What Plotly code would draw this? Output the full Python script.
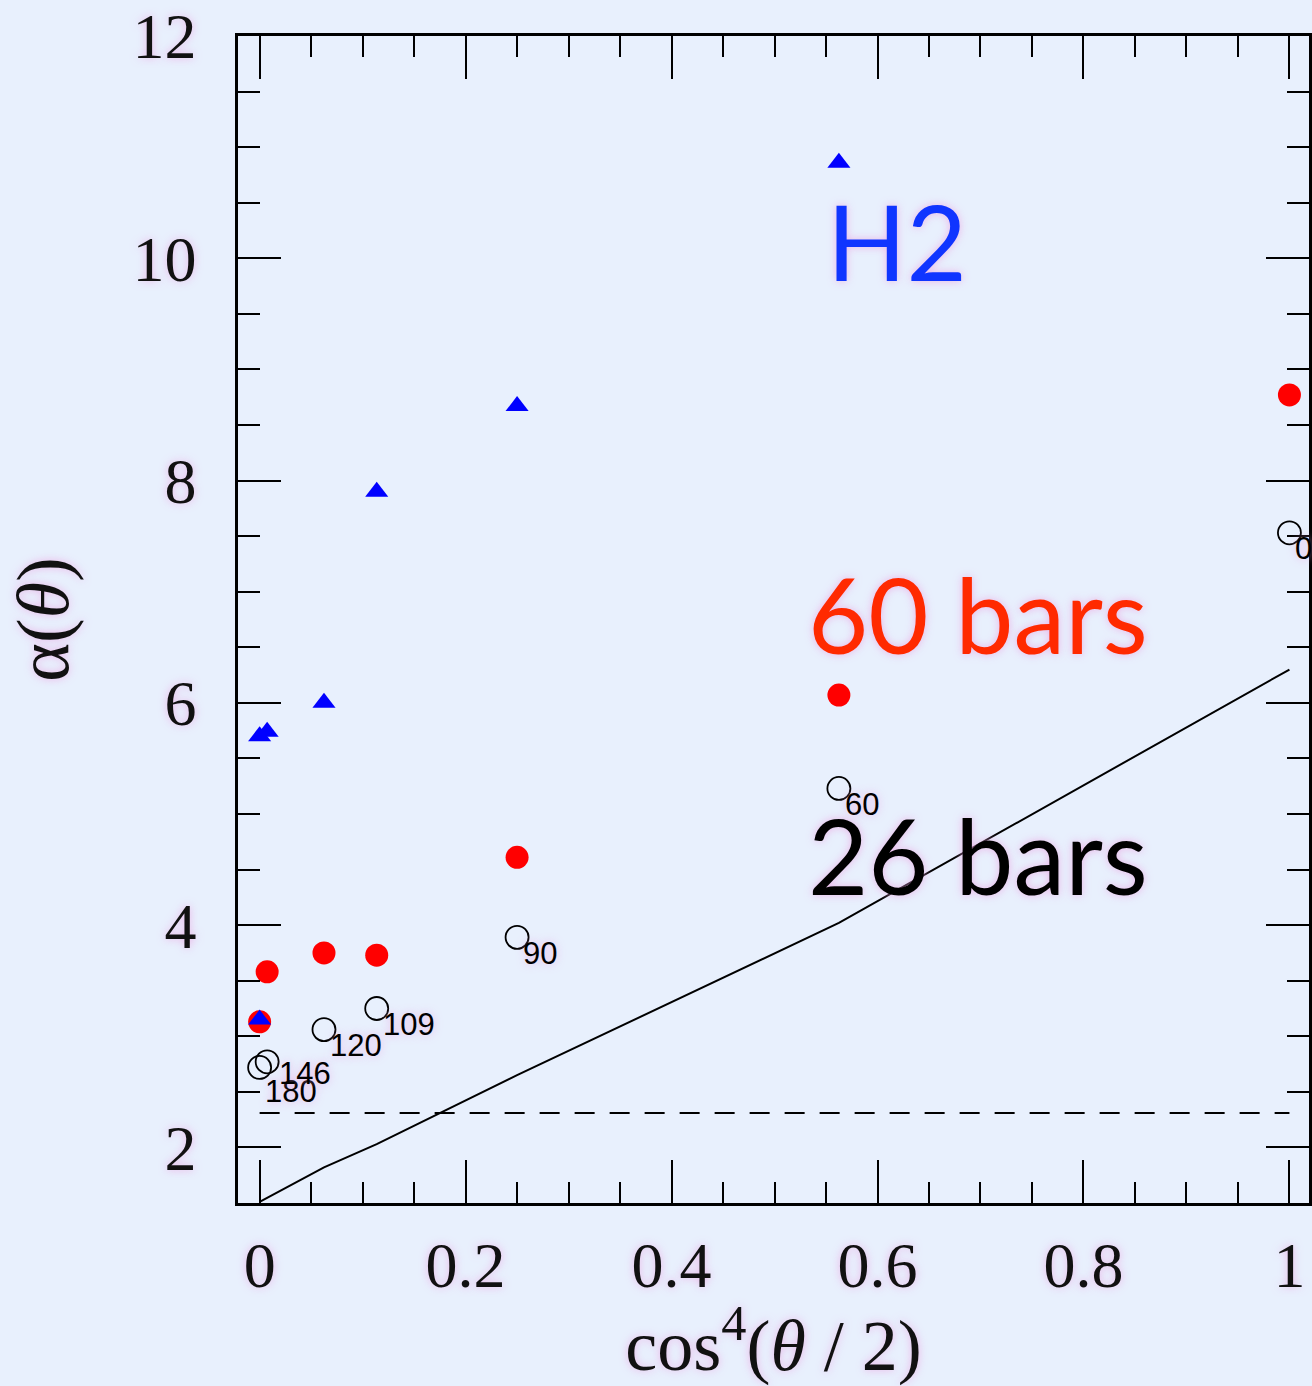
import plotly.graph_objects as go

# ---- data ----
angle_labels = ["180", "146", "120", "109", "90", "60", "0"]
x_angles = [0.0, 0.0073, 0.0625, 0.1137, 0.25, 0.5625, 1.0]

bars60_y = [3.13, 3.58, 3.75, 3.73, 4.61, 6.07, 8.77]
bars26_y = [2.72, 2.77, 3.06, 3.25, 3.89, 5.23, 7.53]

h2_x = [0.0, 0.0, 0.0073, 0.0625, 0.1137, 0.25, 0.5625]
h2_y = [3.15, 5.70, 5.74, 6.00, 7.90, 8.67, 10.86]

line_x = [0.0, 0.0625, 0.1137, 0.25, 0.5625, 1.0]
line_y = [1.51, 1.82, 2.03, 2.65, 4.02, 6.30]

dash_x = [0.0, 1.0]
dash_y = [2.31, 2.31]

# ---- styling ----
BG = "#e8f0fd"
GLOW = "0px 0px 9px rgba(236,160,225,0.75)"
SERIF = "Liberation Serif"
# label offsets (pixels) per angle label
label_shift = {"180": (3, -24), "146": (10, -12)}
default_shift = (4, -16)

fig = go.Figure()

fig.add_trace(go.Scatter(x=dash_x, y=dash_y, mode="lines",
                         line=dict(color="black", width=2, dash="20px,15px"),
                         hoverinfo="skip"))
fig.add_trace(go.Scatter(x=line_x, y=line_y, mode="lines",
                         line=dict(color="black", width=2),
                         hoverinfo="skip"))
fig.add_trace(go.Scatter(x=x_angles, y=bars60_y, mode="markers",
                         marker=dict(symbol="circle", size=23, color="#ff0000",
                                     line=dict(width=0)),
                         hoverinfo="skip"))
fig.add_trace(go.Scatter(x=h2_x, y=h2_y, mode="markers",
                         marker=dict(symbol="triangle-up", size=20, color="#0000ff",
                                     line=dict(width=0)),
                         hoverinfo="skip"))
fig.add_trace(go.Scatter(x=x_angles, y=bars26_y, mode="markers",
                         marker=dict(symbol="circle-open", size=23, color="black",
                                     line=dict(width=1.8, color="black")),
                         hoverinfo="skip"))

annotations = []
for xv, yv, lab in zip(x_angles, bars26_y, angle_labels):
    dx, dy = label_shift.get(lab, default_shift)
    annotations.append(dict(x=xv, y=yv, xref="x", yref="y", text=lab,
                            showarrow=False, xanchor="left", yanchor="middle",
                            xshift=dx, yshift=dy,
                            font=dict(family="Liberation Sans", size=31, color="black",
                                      shadow=GLOW)))

big_font = "Lato"
annotations += [
    dict(x=0.619, y=10.16, xref="x", yref="y", text="H2", showarrow=False,
         xanchor="center", yanchor="middle",
         font=dict(family=big_font, size=104, color="#1035ff", shadow=GLOW)),
    dict(x=0.698, y=6.80, xref="x", yref="y", text="60 bars", showarrow=False,
         xanchor="center", yanchor="middle",
         font=dict(family=big_font, size=104, color="#ff2a00", shadow=GLOW)),
    dict(x=0.698, y=4.64, xref="x", yref="y", text="26 bars", showarrow=False,
         xanchor="center", yanchor="middle",
         font=dict(family=big_font, size=104, color="black", shadow=GLOW)),
]

axis_common = dict(
    showline=True, linecolor="black", linewidth=2.5, mirror="ticks",
    ticks="inside", tickcolor="black", tickwidth=2, ticklen=43,
    showgrid=False, zeroline=False,
    tickfont=dict(family=SERIF, size=64, color="#111111", shadow=GLOW),
)

fig.update_layout(
    width=1312, height=1386,
    margin=dict(l=238, r=0, t=36, b=183),
    paper_bgcolor=BG, plot_bgcolor=BG,
    showlegend=False,
    annotations=annotations,
    xaxis=dict(range=[-0.021, 1.019],
               tickvals=[0, 0.2, 0.4, 0.6, 0.8, 1.0],
               ticktext=["0", "0.2", "0.4", "0.6", "0.8", "1"],
               ticklabelstandoff=4,
               minor=dict(dtick=0.05, tick0=0, ticks="inside", ticklen=21,
                          tickwidth=2, tickcolor="black", showgrid=False),
               title=dict(text="cos<sup>4</sup>(<i>θ</i> / 2)", standoff=34,
                          font=dict(family=SERIF, size=72, color="#111111",
                                    shadow=GLOW)),
               **axis_common),
    yaxis=dict(range=[1.5, 12], tick0=0, dtick=2,
               ticklabelstandoff=26,
               minor=dict(dtick=0.5, tick0=0, ticks="inside", ticklen=22,
                          tickwidth=2, tickcolor="black", showgrid=False),
               title=dict(text="α(<i>θ</i>)", standoff=40,
                          font=dict(family=SERIF, size=74, color="#111111",
                                    shadow=GLOW)),
               **axis_common),
)

fig.write_html("out.html")
